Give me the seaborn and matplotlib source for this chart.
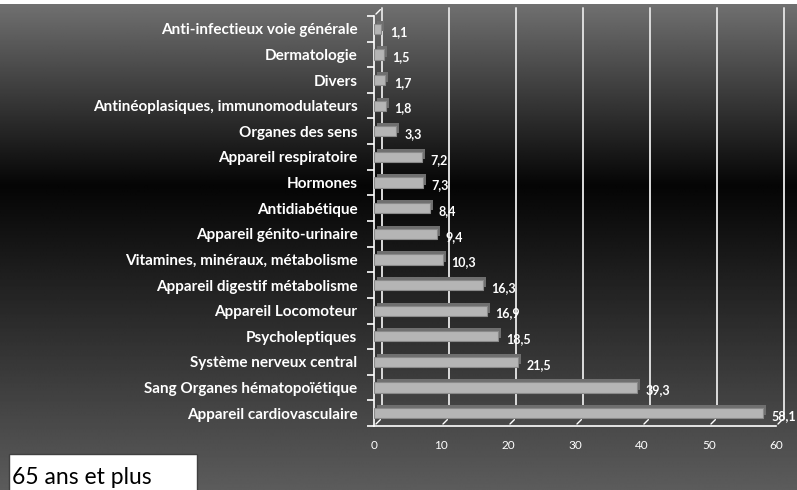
import numpy as np
import pandas as pd
import matplotlib
matplotlib.use('Agg')
import matplotlib.pyplot as plt
import matplotlib.transforms as mtransforms
from matplotlib.patches import Rectangle
import seaborn as sns

# Data (top to bottom as displayed)
categories = [
    'Anti-infectieux voie générale',
    'Dermatologie',
    'Divers',
    'Antinéoplasiques, immunomodulateurs',
    'Organes des sens',
    'Appareil respiratoire',
    'Hormones',
    'Antidiabétique',
    'Appareil génito-urinaire',
    'Vitamines, minéraux, métabolisme',
    'Appareil digestif métabolisme',
    'Appareil Locomoteur',
    'Psycholeptiques',
    'Système nerveux central',
    'Sang Organes hématopoïétique',
    'Appareil cardiovasculaire',
]
values = [1.1, 1.5, 1.7, 1.8, 3.3, 7.2, 7.3, 8.4, 9.4, 10.3, 16.3, 16.9, 18.5, 21.5, 39.3, 58.1]
x_ticks = [0, 10, 20, 30, 40, 50, 60]
group_label = '65 ans et plus'

df = pd.DataFrame({'categorie': categories, 'valeur': values})

sns.set_theme(style='white')
plt.rcParams['font.family'] = ['Lato', 'DejaVu Sans']

fig = plt.figure(figsize=(7.97, 4.90), dpi=100)

# dark gradient background
bg = fig.add_axes([0, 0, 1, 1], zorder=-10)
yy = np.linspace(0, 1, 490)
shade = np.interp(yy, [0, 0.38, 1], [0.45, 0.02, 0.36])
bg.imshow(np.tile(shade[:, None], (1, 10)), cmap='gray', vmin=0, vmax=1,
          aspect='auto', extent=[0, 1, 0, 1])
bg.axis('off')
fig.add_artist(Rectangle((0, 1 - 4 / 490), 1, 4 / 490, transform=fig.transFigure,
                         facecolor='white', edgecolor='none', zorder=-5))

ax = fig.add_axes([374 / 797, 1 - 426 / 490, 402 / 797, 410 / 490])
ax.patch.set_alpha(0)

sns.barplot(data=df, x='valeur', y='categorie', orient='h', order=categories,
            color='#b5b5b5', width=0.4, saturation=1, edgecolor='#8a8a8a',
            linewidth=0.8, ax=ax, zorder=3)

# pseudo 3D depth: darker copy of each bar shifted up/right
px = 1 / 100
depth = mtransforms.ScaledTranslation(3 * px, 3 * px, fig.dpi_scale_trans)
for p in list(ax.patches):
    shadow = Rectangle(p.get_xy(), p.get_width(), p.get_height(),
                       facecolor='#6f6f6f', edgecolor='none',
                       transform=ax.transData + depth, zorder=2)
    ax.add_patch(shadow)

ax.set_xlim(0, 60)
ax.set_ylim(len(categories) - 0.5, -0.5)

# back-wall gridlines
back = mtransforms.ScaledTranslation(8 * px, 8 * px, fig.dpi_scale_trans)
for v in x_ticks:
    ax.plot([v, v], [len(categories) - 0.5, -0.5], color='#dcdcdc', lw=1.4,
            transform=ax.transData + back, zorder=1, clip_on=False)
    ax.annotate('', xy=(v, len(categories) - 0.5), xytext=(6, 6),
                textcoords='offset points',
                arrowprops=dict(arrowstyle='-', color='white', lw=1),
                annotation_clip=False)
ax.annotate('', xy=(0, -0.5), xytext=(6, 6), textcoords='offset points',
            arrowprops=dict(arrowstyle='-', color='white', lw=1),
            annotation_clip=False)

# value labels
for i, v in enumerate(values):
    ax.annotate(f'{v:.1f}'.replace('.', ','), xy=(v, i), xytext=(6, -2),
                textcoords='offset points', ha='left', va='center',
                color='white', fontsize=9, fontweight='bold',
                annotation_clip=False)

for s in ['top', 'right']:
    ax.spines[s].set_visible(False)
for s in ['left', 'bottom']:
    ax.spines[s].set_color('white')
    ax.spines[s].set_linewidth(1.2)

ax.set_xticks(x_ticks)
ax.set_xticklabels([str(t) for t in x_ticks])
ax.tick_params(axis='x', length=0, pad=10, labelcolor='white', labelsize=8.5)
ax.set_yticks(range(len(categories)))
ax.set_yticks(np.arange(len(categories) + 1) - 0.5, minor=True)
ax.tick_params(axis='y', which='major', length=0, pad=12, labelcolor='white',
               labelsize=11)
ax.tick_params(axis='y', which='minor', left=True, length=5, width=1.2,
               color='white')
for lab in ax.get_yticklabels():
    lab.set_fontweight('bold')
ax.set_xlabel('')
ax.set_ylabel('')

# caption box
fig.add_artist(Rectangle((9 / 797, -0.01), 188 / 797, 36 / 490 + 0.01,
                         transform=fig.transFigure, facecolor='white',
                         edgecolor='#404040', lw=1))
fig.text(12 / 797, 6 / 490, group_label, color='black', fontsize=16.5,
         ha='left', va='baseline')

fig.savefig('out.png', dpi=100)
